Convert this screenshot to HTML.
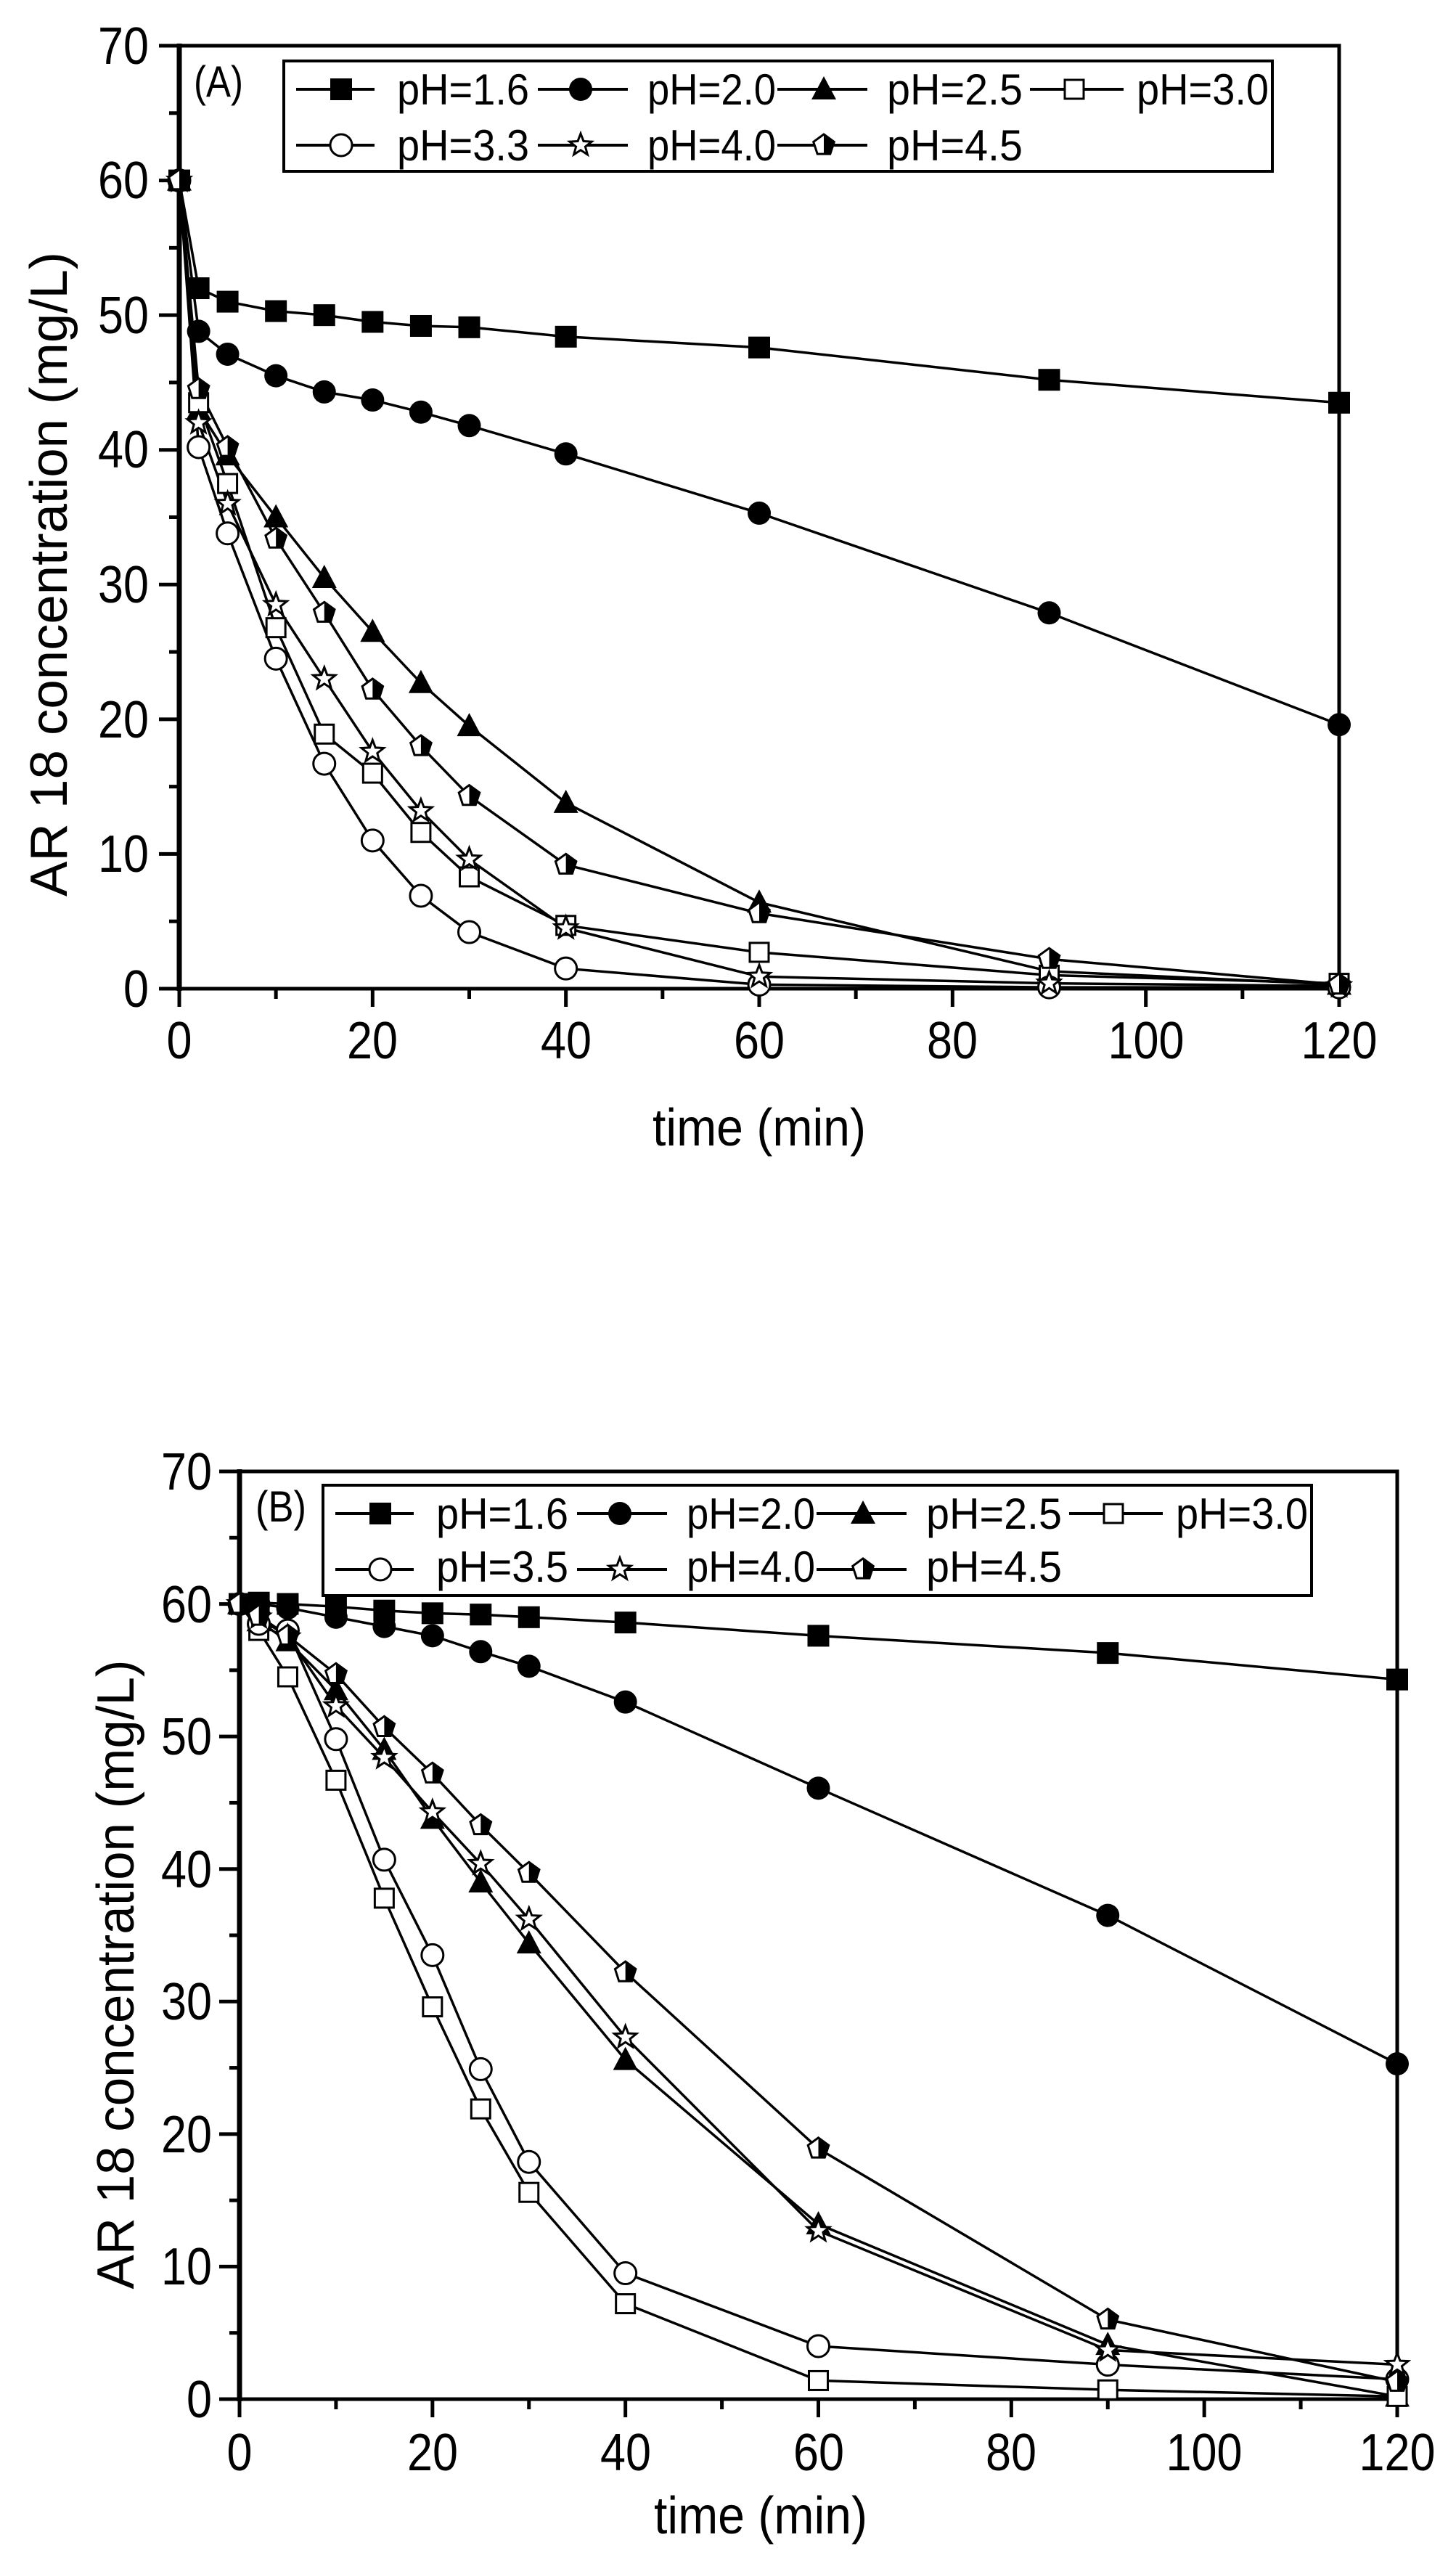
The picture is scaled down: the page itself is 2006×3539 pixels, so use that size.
<!DOCTYPE html>
<html><head><meta charset="utf-8"><style>html,body{margin:0;padding:0;background:#fff}svg{display:block}text{font-family:"Liberation Sans",Arial,sans-serif;fill:#000}</style></head>
<body>
<svg id="s" xmlns="http://www.w3.org/2000/svg" width="2006" height="3539" viewBox="0 0 2006 3539">
<rect width="2006" height="3539" fill="#fff"/>
<g id="plots"></g>
<!-- Panel A text -->
<g font-size="72">
<text x="205" y="88" text-anchor="end" textLength="70" lengthAdjust="spacingAndGlyphs">70</text>
<text x="205" y="273" text-anchor="end" textLength="70" lengthAdjust="spacingAndGlyphs">60</text>
<text x="205" y="459" text-anchor="end" textLength="70" lengthAdjust="spacingAndGlyphs">50</text>
<text x="205" y="644" text-anchor="end" textLength="70" lengthAdjust="spacingAndGlyphs">40</text>
<text x="205" y="830" text-anchor="end" textLength="70" lengthAdjust="spacingAndGlyphs">30</text>
<text x="205" y="1016" text-anchor="end" textLength="70" lengthAdjust="spacingAndGlyphs">20</text>
<text x="205" y="1201" text-anchor="end" textLength="70" lengthAdjust="spacingAndGlyphs">10</text>
<text x="205" y="1387" text-anchor="end" textLength="35" lengthAdjust="spacingAndGlyphs">0</text>
<text x="247" y="1458" text-anchor="middle" textLength="35" lengthAdjust="spacingAndGlyphs">0</text>
<text x="513" y="1458" text-anchor="middle" textLength="70" lengthAdjust="spacingAndGlyphs">20</text>
<text x="780" y="1458" text-anchor="middle" textLength="70" lengthAdjust="spacingAndGlyphs">40</text>
<text x="1046" y="1458" text-anchor="middle" textLength="70" lengthAdjust="spacingAndGlyphs">60</text>
<text x="1312" y="1458" text-anchor="middle" textLength="70" lengthAdjust="spacingAndGlyphs">80</text>
<text x="1579" y="1458" text-anchor="middle" textLength="105" lengthAdjust="spacingAndGlyphs">100</text>
<text x="1845" y="1458" text-anchor="middle" textLength="105" lengthAdjust="spacingAndGlyphs">120</text>
<text x="1046" y="1578" text-anchor="middle" textLength="294" lengthAdjust="spacingAndGlyphs">time (min)</text>
<text transform="translate(92,791) rotate(-90)" text-anchor="middle" textLength="888" lengthAdjust="spacingAndGlyphs">AR 18 concentration (mg/L)</text>
</g>
<g font-size="60">
<text x="267" y="133" textLength="68" lengthAdjust="spacingAndGlyphs">(A)</text>
<text x="547" y="144" textLength="182" lengthAdjust="spacingAndGlyphs">pH=1.6</text>
<text x="892" y="144" textLength="177" lengthAdjust="spacingAndGlyphs">pH=2.0</text>
<text x="1222" y="144" textLength="187" lengthAdjust="spacingAndGlyphs">pH=2.5</text>
<text x="1566" y="144" textLength="182" lengthAdjust="spacingAndGlyphs">pH=3.0</text>
<text x="547" y="221" textLength="182" lengthAdjust="spacingAndGlyphs">pH=3.3</text>
<text x="892" y="221" textLength="177" lengthAdjust="spacingAndGlyphs">pH=4.0</text>
<text x="1222" y="221" textLength="187" lengthAdjust="spacingAndGlyphs">pH=4.5</text>
</g>
<!-- Panel B text -->
<g font-size="72">
<text x="292" y="2052" text-anchor="end" textLength="70" lengthAdjust="spacingAndGlyphs">70</text>
<text x="292" y="2235" text-anchor="end" textLength="70" lengthAdjust="spacingAndGlyphs">60</text>
<text x="292" y="2417" text-anchor="end" textLength="70" lengthAdjust="spacingAndGlyphs">50</text>
<text x="292" y="2600" text-anchor="end" textLength="70" lengthAdjust="spacingAndGlyphs">40</text>
<text x="292" y="2782" text-anchor="end" textLength="70" lengthAdjust="spacingAndGlyphs">30</text>
<text x="292" y="2965" text-anchor="end" textLength="70" lengthAdjust="spacingAndGlyphs">20</text>
<text x="292" y="3147" text-anchor="end" textLength="70" lengthAdjust="spacingAndGlyphs">10</text>
<text x="292" y="3330" text-anchor="end" textLength="35" lengthAdjust="spacingAndGlyphs">0</text>
<text x="330" y="3403" text-anchor="middle" textLength="35" lengthAdjust="spacingAndGlyphs">0</text>
<text x="596" y="3403" text-anchor="middle" textLength="70" lengthAdjust="spacingAndGlyphs">20</text>
<text x="862" y="3403" text-anchor="middle" textLength="70" lengthAdjust="spacingAndGlyphs">40</text>
<text x="1128" y="3403" text-anchor="middle" textLength="70" lengthAdjust="spacingAndGlyphs">60</text>
<text x="1393" y="3403" text-anchor="middle" textLength="70" lengthAdjust="spacingAndGlyphs">80</text>
<text x="1659" y="3403" text-anchor="middle" textLength="105" lengthAdjust="spacingAndGlyphs">100</text>
<text x="1925" y="3403" text-anchor="middle" textLength="105" lengthAdjust="spacingAndGlyphs">120</text>
<text x="1048" y="3490" text-anchor="middle" textLength="294" lengthAdjust="spacingAndGlyphs">time (min)</text>
<text transform="translate(184,2720) rotate(-90)" text-anchor="middle" textLength="867" lengthAdjust="spacingAndGlyphs">AR 18 concentration (mg/L)</text>
</g>
<g font-size="60">
<text x="352" y="2096" textLength="70" lengthAdjust="spacingAndGlyphs">(B)</text>
<text x="601" y="2106" textLength="182" lengthAdjust="spacingAndGlyphs">pH=1.6</text>
<text x="946" y="2106" textLength="177" lengthAdjust="spacingAndGlyphs">pH=2.0</text>
<text x="1276" y="2106" textLength="187" lengthAdjust="spacingAndGlyphs">pH=2.5</text>
<text x="1620" y="2106" textLength="182" lengthAdjust="spacingAndGlyphs">pH=3.0</text>
<text x="601" y="2179" textLength="182" lengthAdjust="spacingAndGlyphs">pH=3.5</text>
<text x="946" y="2179" textLength="177" lengthAdjust="spacingAndGlyphs">pH=4.0</text>
<text x="1276" y="2179" textLength="187" lengthAdjust="spacingAndGlyphs">pH=4.5</text>
</g>
</svg>
<script>
(function(){
var g=document.getElementById("plots"),out="";
var T=[0,2,5,10,15,20,25,30,40,60,90,120];
function mk(type,x,y){var r=15,s="";
 if(type==0)s='<rect x="'+(x-r)+'" y="'+(y-r)+'" width="'+2*r+'" height="'+2*r+'" fill="#000"/>';
 else if(type==1)s='<circle cx="'+x+'" cy="'+y+'" r="'+(r+1)+'" fill="#000"/>';
 else if(type==2)s='<polygon points="'+x+','+(y-r-3)+' '+(x+r+2)+','+(y+r-1)+' '+(x-r-2)+','+(y+r-1)+'" fill="#000"/>';
 else if(type==3)s='<rect x="'+(x-r+2)+'" y="'+(y-r+2)+'" width="'+(2*r-4)+'" height="'+(2*r-4)+'" fill="#fff" stroke="#000" stroke-width="3"/>';
 else if(type==4)s='<circle cx="'+x+'" cy="'+y+'" r="'+(r)+'" fill="#fff" stroke="#000" stroke-width="3"/>';
 else if(type==5){var p=[];for(var i=0;i<10;i++){var a=-Math.PI/2+i*Math.PI/5,rr=i%2?r*0.45:r+1;p.push((x+rr*Math.cos(a)).toFixed(1)+','+(y+rr*Math.sin(a)).toFixed(1));}
  s='<polygon points="'+p.join(' ')+'" fill="#fff" stroke="#000" stroke-width="3"/>';}
 else if(type==6){var p=[];for(var i=0;i<5;i++){var a=-Math.PI/2+i*2*Math.PI/5;p.push([x+r*Math.cos(a),y+r*Math.sin(a)]);}
  var ps=p.map(function(v){return v[0].toFixed(1)+','+v[1].toFixed(1)}).join(' ');
  s='<polygon points="'+ps+'" fill="#fff" stroke="#000" stroke-width="3"/>'+
   '<polygon points="'+x+','+(y-r)+' '+p[1][0].toFixed(1)+','+p[1][1].toFixed(1)+' '+p[2][0].toFixed(1)+','+p[2][1].toFixed(1)+' '+x+','+p[2][1].toFixed(1)+'" fill="#000"/>';}
 return s;}
function panel(P){
 var X=function(t){return P.x0+t*(P.x1-P.x0)/120},Y=function(v){return P.y0-v*(P.y0-P.y70)/70};
 var s='<rect x="'+P.x0+'" y="'+P.y70+'" width="'+(P.x1-P.x0)+'" height="'+(P.y0-P.y70)+'" fill="none" stroke="#000" stroke-width="5"/>';
 s+='<line x1="'+P.x0+'" y1="'+(P.y70-3)+'" x2="'+P.x0+'" y2="'+(P.y0+3)+'" stroke="#000" stroke-width="7"/>';
 for(var v=0;v<=70;v+=5){var L=v%10?14:28;s+='<line x1="'+(P.x0-L)+'" y1="'+Y(v)+'" x2="'+P.x0+'" y2="'+Y(v)+'" stroke="#000" stroke-width="5"/>';}
 for(var t=0;t<=120;t+=10){var L=t%20?14:25;s+='<line x1="'+X(t)+'" y1="'+P.y0+'" x2="'+X(t)+'" y2="'+(P.y0+L)+'" stroke="#000" stroke-width="5"/>';}
 for(var k=0;k<P.d.length;k++){var d=P.d[k],pts=[];for(var i=0;i<T.length;i++)pts.push(X(T[i]).toFixed(1)+','+Y(d[i]).toFixed(1));
  s+='<polyline points="'+pts.join(' ')+'" fill="none" stroke="#000" stroke-width="3.5"/>';}
 for(var k=0;k<P.d.length;k++){var d=P.d[k];for(var i=0;i<T.length;i++)s+=mk(k,X(T[i]),Y(d[i]));}
 var lx=P.lx,ly=P.ly;
 s+='<rect x="'+lx+'" y="'+ly+'" width="1362" height="152" fill="#fff" stroke="#000" stroke-width="4"/>';
 var cols=[[17,125,79],[350,474,409],[680,804,744],[1028,1157,1089]],rows=[ly+39,ly+116];
 for(var k=0;k<7;k++){var c=cols[k%4],r=rows[k<4?0:1];
  s+='<line x1="'+(lx+c[0])+'" y1="'+r+'" x2="'+(lx+c[1])+'" y2="'+r+'" stroke="#000" stroke-width="4"/>'+mk(k,lx+c[2],r);}
 return s;}
out+=panel({x0:247,x1:1845,y0:1362,y70:63,lx:391,ly:84,d:[
[60,52,51,50.3,50,49.5,49.2,49.1,48.4,47.6,45.2,43.5],
[60,48.8,47.1,45.5,44.3,43.7,42.8,41.8,39.7,35.3,27.9,19.6],
[60,43,39.6,35,30.5,26.5,22.7,19.5,13.8,6.4,1.3,0.3],
[60,43.5,37.5,26.8,18.9,16,11.6,8.3,4.7,2.7,1,0.4],
[60,40.2,33.8,24.5,16.7,11,6.9,4.2,1.5,0.3,0.1,0.1],
[60,42,36,28.5,23,17.6,13.2,9.6,4.5,0.9,0.4,0.2],
[60,44.5,40.2,33.4,27.9,22.2,18,14.3,9.2,5.6,2.2,0.3]]});
out+=panel({x0:330,x1:1925,y0:3305,y70:2027,lx:445,ly:2046,d:[
[60,60.1,60,59.8,59.5,59.3,59.2,59,58.6,57.6,56.3,54.3],
[60,60,59.7,59,58.3,57.6,56.4,55.3,52.6,46.1,36.5,25.3],
[60,58.7,57.2,53.5,49,43.8,39,34.4,25.6,13.2,4.1,0.2],
[60,58,54.5,46.7,37.8,29.6,21.9,15.6,7.2,1.4,0.7,0.2],
[60,58.5,58,49.8,40.7,33.5,24.9,17.9,9.5,4,2.6,1.5],
[60,59,57.5,52.3,48.4,44.3,40.4,36.2,27.3,12.7,3.7,2.6],
[60,59.1,57.6,54.7,50.7,47.2,43.3,39.7,32.2,18.9,6,1.3]]});
g.innerHTML=out;
})();
</script>
</body></html>
